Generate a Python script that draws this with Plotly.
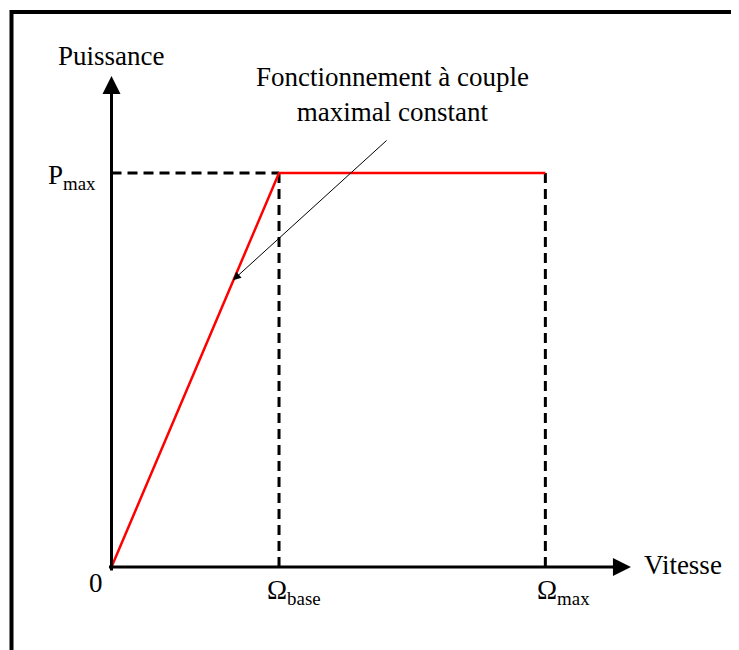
import plotly.graph_objects as go

# Valeurs normalisees (Omega_base = 1, P_max = 1)
omega_base = 1.0
omega_max = 2.59
p_max = 1.0

# Courbe de puissance (rouge)
vitesse = [0.0, omega_base, omega_max]
puissance = [0.0, p_max, p_max]

font_txt = dict(family="Liberation Serif, Times New Roman, serif", size=27, color="black")

fig = go.Figure()

# Pointilles de repere
dash = dict(color="black", width=3, dash="10px,6px")
fig.add_trace(go.Scatter(x=[0, omega_base], y=[p_max, p_max], mode="lines", line=dash))
fig.add_trace(go.Scatter(x=[omega_base, omega_base], y=[p_max, 0], mode="lines", line=dash))
fig.add_trace(go.Scatter(x=[omega_max, omega_max], y=[p_max, 0], mode="lines", line=dash))

# Courbe rouge
fig.add_trace(go.Scatter(x=vitesse, y=puissance, mode="lines",
                         line=dict(color="red", width=2.5)))

# Axes avec fleches
fig.add_annotation(x=3.101, y=0, ax=-0.024, ay=0, xref="x", yref="y", axref="x", ayref="y",
                   text="", showarrow=True, arrowhead=2, arrowsize=1.2, arrowwidth=3,
                   arrowcolor="black")
fig.add_annotation(x=0, y=1.246, ax=0, ay=-0.0127, xref="x", yref="y", axref="x", ayref="y",
                   text="", showarrow=True, arrowhead=2, arrowsize=1.2, arrowwidth=3,
                   arrowcolor="black")

# Fleche de l'annotation
fig.add_annotation(x=0.725, y=0.728, ax=1.651, ay=1.086, xref="x", yref="y", axref="x", ayref="y",
                   text="", showarrow=True, arrowhead=2, arrowsize=1.6, arrowwidth=1,
                   arrowcolor="black")

# Textes
textes = [
    dict(x=0, y=1.297, text="Puissance", xanchor="center"),
    dict(x=-0.0806, y=0.99, text="P<sub>max</sub>", xanchor="right"),
    dict(x=-0.0925, y=-0.0406, text="0", xanchor="center"),
    dict(x=1.09, y=-0.063, text="Ω<sub>base</sub>", xanchor="center"),
    dict(x=2.70, y=-0.063, text="Ω<sub>max</sub>", xanchor="center"),
    dict(x=3.167, y=0.005, text="Vitesse", xanchor="left"),
    dict(x=1.675, y=1.198, text="Fonctionnement à couple<br>maximal constant", xanchor="center"),
]
for t in textes:
    fig.add_annotation(x=t["x"], y=t["y"], text=t["text"], xanchor=t["xanchor"],
                       yanchor="middle", showarrow=False, font=font_txt)

# Cadre (haut et gauche) ; la page ajoute 8px de marge autour de la figure
W, H = 731, 642
fig.add_shape(type="line", xref="paper", yref="paper", x0=2 / W, x1=1,
              y0=1 - 4 / H, y1=1 - 4 / H, line=dict(color="black", width=4))
fig.add_shape(type="line", xref="paper", yref="paper", x0=3.5 / W, x1=3.5 / W,
              y0=0, y1=1 - 2 / H, line=dict(color="black", width=4))

fig.update_layout(
    width=W, height=H,
    margin=dict(l=0, r=0, t=0, b=0),
    showlegend=False,
    paper_bgcolor="white",
    plot_bgcolor="white",
    xaxis=dict(range=[-0.6179, 3.746], visible=False, fixedrange=True),
    yaxis=dict(range=[-0.2107, 1.4188], visible=False, fixedrange=True),
)

fig.write_html("out.html")
